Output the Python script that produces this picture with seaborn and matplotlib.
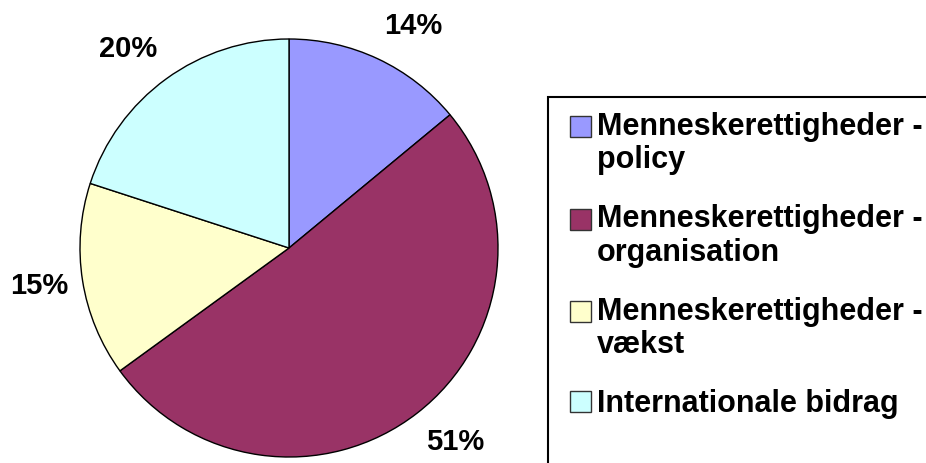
import matplotlib
matplotlib.use("Agg")
import numpy as np
import matplotlib.pyplot as plt
import seaborn as sns
from matplotlib.patches import Rectangle
from matplotlib.legend_handler import HandlerPatch

# Data
categories = [
    "Menneskerettigheder -\npolicy",
    "Menneskerettigheder -\norganisation",
    "Menneskerettigheder -\nvækst",
    "Internationale bidrag",
]
shares = [14, 51, 15, 20]
colors = ["#9999FF", "#993366", "#FFFFCC", "#CCFFFF"]

sns.set_theme(style="white")
plt.rcParams["font.family"] = ["Liberation Sans", "DejaVu Sans"]
plt.rcParams["font.weight"] = "bold"
plt.rcParams["text.color"] = "black"


class FirstLineHandler(HandlerPatch):
    """Square legend key lined up with the first line of a multi-line label."""

    def __init__(self, nlines, linespacing):
        super().__init__()
        self.nlines = nlines
        self.linespacing = linespacing

    def create_artists(self, legend, orig_handle, xdescent, ydescent,
                       width, height, fontsize, trans):
        shift = 0.5 * (self.nlines - 1) * self.linespacing * fontsize
        p = Rectangle((-xdescent, -ydescent + shift), width, height,
                      facecolor=orig_handle.get_facecolor(),
                      edgecolor=orig_handle.get_edgecolor(),
                      linewidth=orig_handle.get_linewidth())
        p.set_transform(trans)
        return [p]


fig = plt.figure(figsize=(9.26, 4.63), dpi=100)
# pie centre ~ (289, 248) px, radius ~209 px
ax = fig.add_axes([80 / 926, 6 / 463, 418 / 926, 418 / 463])

wedges, texts, autotexts = ax.pie(
    shares,
    colors=colors,
    startangle=90,
    counterclock=False,
    autopct="%1.0f%%",
    wedgeprops=dict(edgecolor="black", linewidth=1),
    textprops=dict(fontsize=21, fontweight="bold", color="black"),
)
ax.set_xlim(-1, 1)
ax.set_ylim(-1, 1)
ax.set_aspect("equal")

# Excel-style outside labels: box edge attached just outside the rim
for w, t in zip(wedges, autotexts):
    mid = np.deg2rad((w.theta1 + w.theta2) / 2)
    x, y = 1.07 * np.cos(mid), 1.07 * np.sin(mid) + 0.105 * np.sin(mid)
    t.set_position((x, y))
    t.set_ha("left" if np.cos(mid) > 0 else "right")
    t.set_va("center")

# legend frame running off the figure edge
fig.patches.append(Rectangle((548 / 926, -0.05), 0.5, (463 - 97) / 463 + 0.05,
                             transform=fig.transFigure, fill=False,
                             edgecolor="black", linewidth=1.5))

linesp = 1.15
handles = [Rectangle((0, 0), 1, 1, facecolor=c, edgecolor="#333333", linewidth=1)
           for c in colors]
hmap = {h: FirstLineHandler(lab.count("\n") + 1, linesp)
        for h, lab in zip(handles, categories)}
leg = fig.legend(
    handles, categories,
    handler_map=hmap,
    loc="upper left",
    bbox_to_anchor=(570 / 926, 1 - 112 / 463),
    frameon=False,
    prop=dict(weight="bold", size=22),
    labelcolor="black",
    handlelength=0.68,
    handleheight=0.68,
    handletextpad=0.2,
    labelspacing=0.95,
    borderaxespad=0,
    borderpad=0,
)
for t in leg.get_texts():
    t.set_linespacing(linesp)

fig.savefig("out.png", dpi=100)
